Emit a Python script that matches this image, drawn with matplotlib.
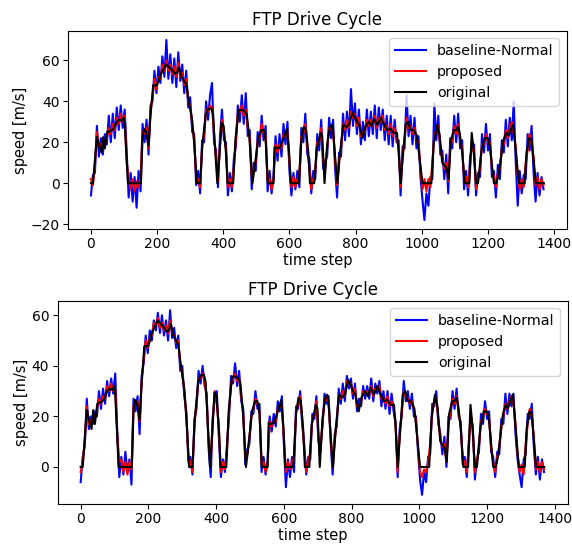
import numpy as np
import matplotlib
matplotlib.use("Agg")
import matplotlib.pyplot as plt

# original drive cycle (knots)
orig_t = [0, 6, 18, 26, 32, 37, 42, 49, 58, 68, 78, 85, 93, 99, 102, 112, 151, 156, 161, 167,
          174, 180, 188, 198, 205, 210, 220, 227, 234, 244, 254, 260, 266, 274, 281, 288, 296,
          306, 313, 320, 330, 337, 347, 354, 364, 369, 376, 382, 389, 395, 401, 408, 413, 430,
          437, 447, 457, 465, 471, 479, 488, 494, 506, 515, 522, 528, 535, 552, 555, 562, 572,
          582, 592, 599, 604, 628, 636, 643, 650, 657, 662, 675, 682, 689, 694, 699, 706, 714,
          722, 728, 733, 740, 745, 753, 763, 772, 780, 790, 797, 804, 811, 821, 829, 839, 848,
          856, 866, 876, 886, 895, 905, 915, 925, 930, 936, 944, 951, 958, 966, 975, 985, 993,
          1002, 1029, 1036, 1046, 1054, 1062, 1068, 1075, 1081, 1088, 1097, 1104, 1110, 1115,
          1122, 1130, 1144, 1151, 1157, 1164, 1170, 1180, 1190, 1200, 1206, 1213, 1218, 1225,
          1232, 1239, 1247, 1255, 1262, 1268, 1276, 1281, 1288, 1294, 1311, 1317, 1325, 1332,
          1340, 1345, 1369]
orig_v = [0, 0, 22.6, 18, 15, 22.5, 17, 25, 25.5, 26.5, 30, 31, 30.5, 32, 29, 0, 0, 22.5, 26.5, 25,
          18.5, 33, 47.8, 47.8, 50, 53, 56, 58, 57, 55.5, 53.5, 54, 56.5, 52, 50, 48.5, 40,
          30.8, 17.6, 0, 0, 19, 33.6, 36.2, 36.5, 33.6, 15, 0, 15, 29.5, 28, 15, 0, 0,
          22, 35.8, 35.8, 35, 33.6, 22, 0, 6.6, 22, 26, 26, 21, 0, 0, 17.6, 17, 17.6,
          22, 26.5, 15, 0, 0, 21, 27.4, 26, 15, 0, 0, 16.6, 21, 24.5, 23.3, 0, 19,
          27.4, 28.6, 23.3, 8.8, 0, 15, 28.6, 27.4, 28.6, 34.5, 32.5, 30, 28.6, 22, 27.4, 30, 28,
          31.3, 28.6, 32, 28.6, 26, 26.6, 24.6, 24.6, 15.4, 0, 15.4, 28.6, 30, 26, 26, 23.3, 12.8,
          0, 0, 19, 28.6, 23.3, 10, 8.8, 7.4, 2, 21, 26, 26, 27.4, 24,
          15.4, 0, 0, 24.6, 15.4, 0, 0, 15.4, 22, 22, 18, 7.3, 0, 0,
          3.9, 12, 21, 24.5, 23.3, 26, 28.6, 21, 8.8, 0, 0, 15.4, 22, 21,
          7.4, 0, 0]

# noisy reconstructions, sampled every 6 time steps
noisy_t = np.arange(0, 1369, 6)

top_baseline = [
    -6, 4, 5, 28, 13, 22, 14, 24, 19, 33,
    20, 34, 22, 37, 26, 38, 27, 36, 16, -7,
    5, -9, 3, -12, 6, -4, 29, 20, 31, 14,
    38, 40, 55, 44, 57, 49, 62, 52, 70, 51,
    63, 49, 61, 47, 64, 50, 58, 44, 55, 37,
    42, 25, 24, -1, 6, -5, 21, 20, 40, 31,
    43, 49, 20, 16, -2, 23, 36, 21, 20, -6,
    5, -4, 12, 18, 38, 30, 43, 29, 44, 23,
    26, -3, 10, 6, 25, 18, 33, 21, 28, -4,
    6, -5, 4, 23, 11, 24, 13, 29, 19, 30,
    6, -6, 5, -3, 6, -2, 27, 20, 34, 14,
    12, -5, 6, 2, 24, 16, 31, 7, 11, 13,
    32, 22, 31, 7, -7, 15, 13, 34, 21, 35,
    23, 46, 28, 39, 24, 36, 19, 30, 21, 36,
    23, 35, 24, 38, 22, 37, 26, 36, 21, 33,
    19, 33, 18, 31, 20, 21, -6, 18, 17, 43,
    23, 33, 19, 32, 17, 23, 3, -8, -18, -5,
    -11, 3, 2, 39, 21, 33, 14, 16, 2, 14,
    -5, 22, 17, 33, 20, 34, 17, 21, -3, 6,
    -6, 13, 17, 19, -6, 5, 3, 24, 15, 29,
    16, 24, 3, 6, -7, 9, 2, 21, 15, 31,
    18, 32, 21, 40, 10, -11, 6, -5, 4, 2,
    24, 16, 28, 5, -9, 5, -6, 3, -3]

top_proposed = [
    2, -1, 9, 25, 18, 19, 20, 19, 22, 27,
    24, 29, 26, 32, 29, 34, 30, 33, 10, 3,
    -3, 2, -4, 1, -2, 3, 25, 24, 27, 17,
    35, 42, 51, 46, 52, 51, 58, 55, 60, 55,
    58, 53, 57, 52, 59, 52, 54, 48, 51, 40,
    38, 29, 21, 3, 2, -2, 18, 24, 36, 35,
    38, 37, 24, 12, 1, 19, 31, 24, 17, -2,
    2, -2, 8, 21, 34, 35, 38, 33, 36, 27,
    22, 3, 6, 10, 21, 22, 29, 24, 23, 1,
    2, -3, 2, 19, 15, 19, 17, 24, 23, 25,
    10, -2, 3, -2, 2, 3, 23, 24, 29, 18,
    8, -3, 2, 5, 20, 20, 27, 11, 7, 17,
    27, 26, 26, 11, -1, 11, 17, 29, 26, 31,
    27, 35, 32, 34, 28, 32, 23, 25, 25, 31,
    28, 31, 28, 33, 27, 32, 30, 33, 26, 28,
    24, 29, 23, 27, 23, 17, -2, 14, 21, 32,
    27, 28, 24, 27, 22, 19, 7, -3, 2, -4,
    2, -2, 10, 24, 25, 28, 18, 12, 7, 10,
    1, 18, 21, 28, 24, 29, 21, 17, 2, 3,
    -2, 9, 21, 15, -3, 2, 7, 19, 19, 24,
    20, 20, 7, 3, -2, 5, 7, 17, 19, 26,
    22, 27, 30, 24, 18, 4, -3, 2, -2, 10,
    16, 24, 19, 13, -1, 3, -3, 2, -1]

bottom_baseline = [
    -6, 4, 8, 27, 15, 20, 17, 22, 20, 30,
    23, 31, 25, 34, 28, 35, 29, 37, 14, -4,
    4, -3, 6, -2, 3, -7, 27, 22, 28, 13,
    36, 41, 52, 45, 54, 50, 58, 54, 61, 53,
    60, 52, 58, 50, 62, 51, 55, 47, 52, 38,
    40, 28, 22, 2, 4, -3, 19, 23, 38, 33,
    40, 32, 29, 7, -4, 20, 27, 30, 12, -4,
    3, -2, 9, 20, 36, 33, 41, 32, 38, 26,
    23, 1, 7, 9, 22, 21, 30, 23, 25, -2,
    4, -3, 3, 20, 14, 21, 16, 26, 22, 28,
    9, -8, 3, -4, 4, -2, 24, 23, 30, 17,
    9, -3, 4, 3, 21, 19, 28, 10, 8, 16,
    29, 25, 28, 10, -3, 13, 16, 31, 25, 33,
    26, 36, 31, 35, 27, 33, 22, 27, 24, 32,
    27, 32, 27, 35, 26, 33, 29, 34, 24, 30,
    23, 30, 21, 29, 22, 18, -4, 15, 20, 34,
    26, 30, 23, 29, 20, 20, 6, -5, -11, -2,
    -6, 4, 5, 25, 24, 30, 17, 13, 5, 12,
    0, 20, 19, 30, 23, 31, 20, 18, 1, 4,
    -4, 10, 20, 16, -5, 3, 6, 21, 17, 26,
    19, 22, 6, 4, -4, 6, 5, 19, 17, 29,
    21, 29, 24, 29, 13, 3, -3, -8, 3, 5,
    21, 19, 25, 8, -3, 4, -5, 3, -2]

bottom_proposed = [
    -2, 2, 10, 24, 17, 18, 20, 19, 23, 27,
    25, 28, 27, 32, 30, 33, 30, 31, 13, 2,
    3, -2, 2, -3, 2, -1, 24, 25, 26, 18,
    34, 43, 50, 47, 51, 52, 57, 56, 59, 55,
    57, 54, 56, 53, 58, 53, 52, 49, 50, 41,
    37, 30, 20, 4, 2, -2, 17, 25, 35, 35,
    37, 34, 27, 9, 2, 18, 30, 25, 16, -2,
    2, -1, 7, 22, 33, 35, 37, 34, 35, 28,
    21, 4, 5, 11, 20, 23, 27, 25, 22, 1,
    2, -2, 1, 18, 16, 18, 18, 23, 24, 24,
    11, -2, 2, -1, 2, 4, 22, 25, 28, 19,
    7, -2, 2, 6, 19, 21, 26, 12, 6, 18,
    26, 27, 25, 12, 0, 10, 18, 28, 27, 30,
    28, 34, 33, 33, 29, 31, 24, 24, 26, 30,
    29, 30, 29, 32, 28, 31, 31, 32, 27, 27,
    25, 28, 24, 26, 24, 16, -2, 13, 22, 30,
    28, 27, 25, 26, 23, 18, 8, -2, -4, -1,
    -2, 2, 9, 22, 26, 27, 19, 11, 8, 9,
    2, 17, 22, 27, 25, 28, 22, 16, 3, 2,
    -2, 8, 22, 14, -2, 2, 8, 18, 20, 23,
    21, 19, 8, 2, -2, 4, 8, 16, 20, 25,
    23, 26, 28, 25, 17, 5, -2, 1, -3, 9,
    17, 23, 20, 12, -1, 2, -2, 2, -1]

title = "FTP Drive Cycle"
labels = ["baseline-Normal", "proposed", "original"]

W, H = 572, 544
fig = plt.figure(figsize=(W / 100, H / 100), dpi=100)
ax1 = fig.add_axes([68.3 / W, 1 - 229 / H, (566.5 - 68.3) / W, (229 - 31) / H])
ax2 = fig.add_axes([57.5 / W, 1 - 504 / H, (567.5 - 57.5) / W, (504 - 301) / H])

for ax, base, prop in [(ax1, top_baseline, top_proposed), (ax2, bottom_baseline, bottom_proposed)]:
    ax.plot(noisy_t, base, color="b", lw=1.5, label=labels[0])
    ax.plot(noisy_t, prop, color="r", lw=1.5, label=labels[1])
    ax.plot(orig_t, orig_v, color="k", lw=1.5, label=labels[2])
    ax.set_title(title, fontsize=12, pad=4)
    ax.set_xlabel("time step", fontsize=10.5, labelpad=1)
    ax.set_ylabel("speed [m/s]", fontsize=10.5, labelpad=2)
    ax.set_xticks([0, 200, 400, 600, 800, 1000, 1200, 1400])
    ax.tick_params(labelsize=10, pad=2.5)
    ax.legend(loc="upper right", fontsize=10.3, handlelength=2.15)

fig.savefig("out.png", dpi=100)
